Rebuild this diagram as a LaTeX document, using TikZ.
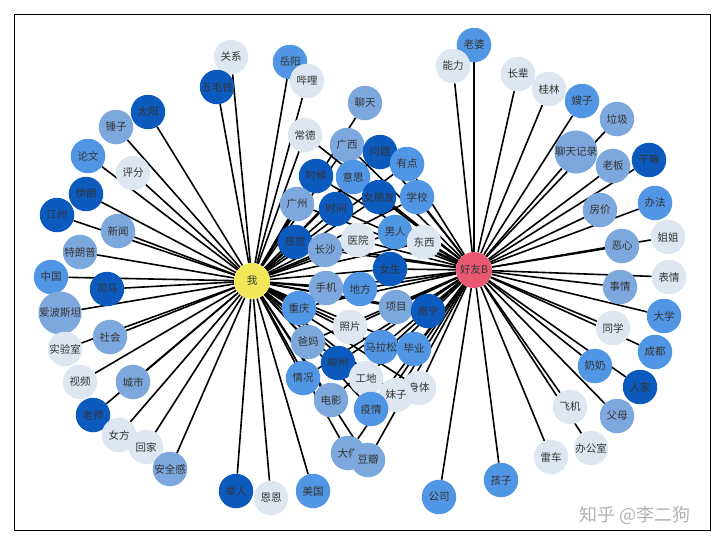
\documentclass[tikz,border=0pt]{standalone}
\usepackage{fontspec}
\newfontfamily\cjk{Noto Sans CJK SC}
\definecolor{cdk}{RGB}{12,90,190}
\definecolor{cmd}{RGB}{80,150,228}
\definecolor{clm}{RGB}{124,168,222}
\definecolor{cvl}{RGB}{222,230,241}
\definecolor{cme}{RGB}{240,232,88}
\definecolor{cbb}{RGB}{232,88,112}
\pgfdeclarelayer{bg}\pgfsetlayers{bg,main}
\begin{document}
\begin{tikzpicture}[x=1pt,y=-1pt,
  nd/.style={circle,minimum size=34.5pt,inner sep=0pt,font=\cjk\fontsize{10.5}{12}\selectfont,text=black!80},
  dk/.style={nd,fill=cdk},
  md/.style={nd,fill=cmd},
  lm/.style={nd,fill=clm},
  vl/.style={nd,fill=cvl},
  hub/.style={nd,minimum size=36pt},
  edge/.style={line width=1.6pt,black}]
\useasboundingbox (0,0) rectangle (720,544);
\draw[line width=1pt] (14,14) rectangle (710,530);
\node[hub,fill=cme] (me) at (252,281) {我};
\node[hub,fill=cbb] (B) at (474,270) {好友B};
% left nodes
\foreach \n/\x/\y/\s/\t in {
 L1/231/57/vl/关系, L2/217/87/dk/五毛钱, L3/290/62/md/岳阳, L4/307/81/vl/哔哩,
 L5/148/112/dk/太阳, L6/116/127/lm/锤子, L7/88/156/md/论文, L8/133/173/vl/评分,
 L9/86/194/dk/伊朗, L10/57/215/dk/江州, L11/118/231/lm/新闻, L12/80/252/lm/特朗普,
 L13/51/277/md/中国, L14/107/289/dk/司马, L15/60/313/lm/爱波斯坦, L16/110/337/lm/社会,
 L17/65/349/vl/实验室, L18/80/382/vl/视频, L19/133/382/lm/城市, L20/93/415/dk/老师,
 L21/119/435/vl/女方, L22/146/447/vl/回家, L23/170/469/lm/安全感, L24/236/491/dk/举人,
 L25/271/498/vl/恩恩, L26/313/491/md/美国, L27/365/103/lm/聊天}
 \node[\s] (\n) at (\x,\y) {\t};
% right nodes
\foreach \n/\x/\y/\s/\t in {
 R1/474/45/md/老婆, R2/453/66/vl/能力, R3/518/74/vl/长辈, R4/549/89/vl/桂林,
 R5/582/101/md/嫂子, R6/617/119/lm/垃圾, R7/576/152/lm/聊天记录, R8/613/166/lm/老板,
 R9/649/160/dk/干嘛, R10/655/203/md/办法, R11/600/210/lm/房价, R12/668/237/vl/姐姐,
 R13/622/246/lm/恶心, R14/669/277/vl/表情, R15/620/287/lm/事情, R16/664/316/md/大学,
 R17/613/328/vl/同学, R18/655/352/md/成都, R19/595/366/md/奶奶, R20/640/387/dk/人家,
 R21/617/416/lm/父母, R22/570/407/vl/飞机, R23/591/448/vl/办公室, R24/551/457/vl/雷车,
 R25/501/480/md/孩子, R26/439/497/md/公司}
 \node[\s] (\n) at (\x,\y) {\t};
% middle nodes
\foreach \n/\x/\y/\s/\t in {
 M1/305/135/vl/常德, M2/347/145/lm/广西, M3/380/152/dk/问题, M4/407/164/md/有点,
 M5/316/176/dk/时候, M6/353/177/md/意思, M7/379/197/dk/女朋友, M8/417/197/md/学校,
 M9/297/204/lm/广州, M10/336/209/dk/时间, M11/395/232/md/男人, M12/424/242/vl/东西,
 M13/295/242/dk/感觉, M14/325/250/lm/长沙, M15/358/240/vl/医院, M16/390/269/dk/女生,
 M17/326/288/lm/手机, M18/360/289/md/地方, M19/396/307/lm/项目, M20/428/311/dk/南宁,
 M21/299/308/md/重庆, M22/350/327/vl/照片, M23/308/342/lm/爸妈, M24/381/347/md/马拉松,
 M25/414/349/md/毕业, M26/338/363/dk/柳州, M27/303/378/md/情况, M28/366/378/vl/工地,
 M29/419/388/vl/身体, M30/396/395/vl/妹子, M31/331/400/lm/电影, M32/371/409/md/疫情,
 M33/348/453/lm/大佬, M34/368/460/lm/豆瓣}
 \node[\s] (\n) at (\x,\y) {\t};
\begin{pgfonlayer}{bg}
\foreach \i in {1,...,27} \draw[edge] (L\i) -- (me);
\foreach \i in {1,...,26} \draw[edge] (R\i) -- (B);
\foreach \i in {1,...,34} {\draw[edge] (M\i) -- (me); \draw[edge] (M\i) -- (B);}
\end{pgfonlayer}
\node[font=\cjk\fontsize{18}{20}\selectfont,text=black!30] (wm) at (635,515) {知乎 @李二狗};
\end{tikzpicture}
\end{document}
